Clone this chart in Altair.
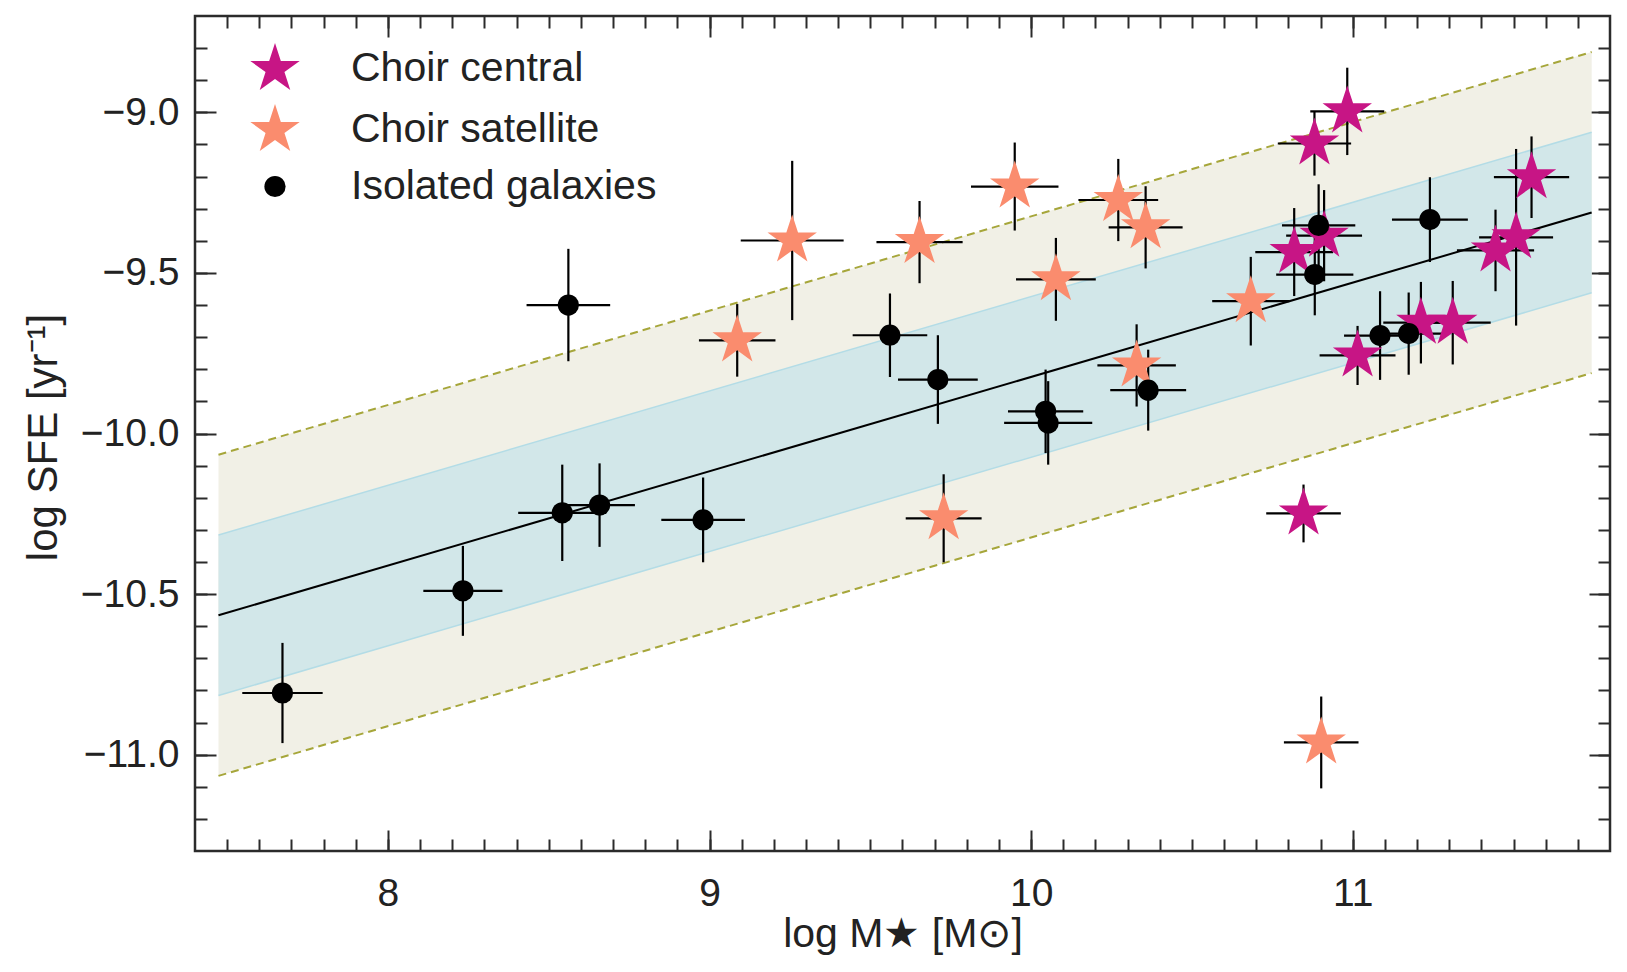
import math
import altair as alt
import pandas as pd

FONT = "Liberation Sans"
TXT = "#222222"
INK = "#2b2b2b"

# ---------------- data ----------------
groups = ["Choir central", "Choir satellite", "Isolated galaxies"]
group_colors = ["#C71585", "#FA8C6E", "#000000"]
group_sizes = [2700, 2700, 450]

cen_x = [10.983, 10.881, 11.556, 10.818, 10.911, 11.444, 11.508, 11.015, 11.212, 11.311, 10.847]
cen_y = [-8.997, -9.097, -9.202, -9.435, -9.384, -9.430, -9.389, -9.757, -9.655, -9.655, -10.249]
cen_xerr = [0.115, 0.114, 0.117, 0.121, 0.118, 0.120, 0.115, 0.118, 0.117, 0.118, 0.116]
cen_yerr = [0.136, 0.100, 0.127, 0.137, 0.142, 0.127, 0.275, 0.092, 0.127, 0.130, 0.090]

sat_x = [9.257, 9.086, 9.653, 9.949, 10.077, 10.271, 10.356, 10.683, 10.328, 9.728, 10.902]
sat_y = [-9.399, -9.710, -9.404, -9.231, -9.520, -9.273, -9.358, -9.588, -9.788, -10.264, -10.962]
sat_xerr = [0.160, 0.119, 0.134, 0.136, 0.124, 0.124, 0.115, 0.120, 0.122, 0.118, 0.116]
sat_yerr = [0.248, 0.113, 0.128, 0.137, 0.129, 0.128, 0.128, 0.138, 0.128, 0.137, 0.143]

iso_x = [7.672, 8.233, 8.561, 8.542, 8.658, 8.980, 9.561, 9.710, 10.045, 10.053,
         10.364, 10.894, 10.882, 11.085, 11.174, 11.240]
iso_y = [-10.808, -10.490, -9.600, -10.247, -10.223, -10.269, -9.694, -9.832, -9.931, -9.967,
         -9.865, -9.352, -9.505, -9.695, -9.689, -9.334]
iso_xerr = [0.125, 0.123, 0.130, 0.137, 0.110, 0.130, 0.116, 0.124, 0.117, 0.137,
            0.118, 0.114, 0.120, 0.112, 0.110, 0.118]
iso_yerr = [0.156, 0.140, 0.175, 0.150, 0.130, 0.132, 0.130, 0.138, 0.130, 0.130,
            0.126, 0.128, 0.127, 0.138, 0.128, 0.132]

# best-fit relation and its scatter bands
fit_x = [7.473, 11.743]
fit_y = [-10.566, -9.312]
band_inner = 0.25
band_outer = 0.50

# axis ticks
x_major = [8, 9, 10, 11]
x_minor = [round(7.5 + 0.1 * i, 1) for i in range(43)]
y_major = [-11.0, -10.5, -10.0, -9.5, -9.0]
y_minor = [round(-11.2 + 0.1 * i, 1) for i in range(25)]

X_DOMAIN = [7.4, 11.8]
Y_DOMAIN = [-11.3, -8.7]
W, H = 1415, 835

# ---------------- tables ----------------
rows = []
for g, xs_, ys_, xe, ye in [
    (groups[0], cen_x, cen_y, cen_xerr, cen_yerr),
    (groups[1], sat_x, sat_y, sat_xerr, sat_yerr),
    (groups[2], iso_x, iso_y, iso_xerr, iso_yerr),
]:
    for a, b, c, d in zip(xs_, ys_, xe, ye):
        rows.append({"group": g, "x": a, "y": b, "xerr": c, "yerr": d})
pts = pd.DataFrame(rows)
pts["x_lo"] = pts["x"] - pts["xerr"]
pts["x_hi"] = pts["x"] + pts["xerr"]
pts["y_lo"] = pts["y"] - pts["yerr"]
pts["y_hi"] = pts["y"] + pts["yerr"]

band = pd.DataFrame({"x": fit_x, "y": fit_y})
band["in_lo"] = band["y"] - band_inner
band["in_hi"] = band["y"] + band_inner
band["out_lo"] = band["y"] - band_outer
band["out_hi"] = band["y"] + band_outer

# star symbol path (unit box)
star_pts = []
for k in range(10):
    r = 1.0 if k % 2 == 0 else 0.382
    a = math.radians(-90 + 36 * k)
    star_pts.append(f"{r * math.cos(a):.4f},{r * math.sin(a):.4f}")
STAR = "M" + "L".join(star_pts) + "Z"

# ---------------- scales / axes ----------------
xs = alt.Scale(domain=X_DOMAIN, nice=False, zero=False)
ys = alt.Scale(domain=Y_DOMAIN, nice=False, zero=False)

TICK = dict(domain=False, grid=False, tickColor=INK, tickWidth=2)
LAB = 39
TIT = 41


def ax_x(kind):
    if kind == "major_bottom":
        return alt.Axis(orient="bottom", values=x_major, tickSize=21, offset=-21, format="d",
                        labelFont=FONT, labelFontSize=LAB, labelColor=TXT, labelPadding=23,
                        title="log M★ [M⊙]", titleFont=FONT, titleFontSize=TIT,
                        titleFontWeight="normal", titleColor=TXT, titleX=W / 2, titleY=104,
                        titleBaseline="middle", titleAlign="center", **TICK)
    if kind == "minor_bottom":
        return alt.Axis(orient="bottom", values=x_minor, tickSize=12, offset=-12,
                        labels=False, title="", **TICK)
    if kind == "major_top":
        return alt.Axis(orient="top", values=x_major, tickSize=21, offset=-21,
                        labels=False, title="", **TICK)
    return alt.Axis(orient="top", values=x_minor, tickSize=12, offset=-12,
                    labels=False, title="", **TICK)


def ax_y(kind):
    if kind == "major_left":
        return alt.Axis(orient="left", values=y_major, tickSize=21, offset=-21, format=".1f",
                        labelFont=FONT, labelFontSize=LAB, labelColor=TXT, labelPadding=16,
                        title="log SFE [yr⁻¹]", titleFont=FONT, titleFontSize=42,
                        titleFontWeight="normal", titleColor=TXT, titleAngle=270,
                        titleX=-173, titleY=421, titleBaseline="middle", titleAlign="center",
                        **TICK)
    if kind == "minor_left":
        return alt.Axis(orient="left", values=y_minor, tickSize=12, offset=-12,
                        labels=False, title="", **TICK)
    if kind == "major_right":
        return alt.Axis(orient="right", values=y_major, tickSize=21, offset=-21,
                        labels=False, title="", **TICK)
    return alt.Axis(orient="right", values=y_minor, tickSize=12, offset=-12,
                    labels=False, title="", **TICK)


def X(field, axis=None):
    if axis is None:
        return alt.X(field, type="quantitative", scale=xs, axis=None)
    return alt.X(field, type="quantitative", scale=xs, axis=axis)


def Y(field, axis=None):
    if axis is None:
        return alt.Y(field, type="quantitative", scale=ys, axis=None)
    return alt.Y(field, type="quantitative", scale=ys, axis=axis)


# ---------------- layers ----------------
outer_band = alt.Chart(band).mark_area(color="#F1F0E6", opacity=1).encode(
    x=X("x", ax_x("major_bottom")), y=Y("out_lo", ax_y("major_left")), y2="out_hi")

inner_band = alt.Chart(band).mark_area(color="#D2E7E9", opacity=1).encode(
    x=X("x", ax_x("minor_bottom")), y=Y("in_lo", ax_y("minor_left")), y2="in_hi")

dash_hi = alt.Chart(band).mark_line(color="#A6A63A", strokeWidth=2, strokeDash=[8, 5]).encode(
    x=X("x", ax_x("major_top")), y=Y("out_hi", ax_y("major_right")))

dash_lo = alt.Chart(band).mark_line(color="#A6A63A", strokeWidth=2, strokeDash=[8, 5]).encode(
    x=X("x", ax_x("minor_top")), y=Y("out_lo", ax_y("minor_right")))

edge_hi = alt.Chart(band).mark_line(color="#B3DCE6", strokeWidth=1.5).encode(
    x=X("x"), y=Y("in_hi"))
edge_lo = alt.Chart(band).mark_line(color="#B3DCE6", strokeWidth=1.5).encode(
    x=X("x"), y=Y("in_lo"))

fit_line = alt.Chart(band).mark_line(color="#000000", strokeWidth=2).encode(
    x=X("x"), y=Y("y"))

err_x = alt.Chart(pts).mark_rule(color="#000000", strokeWidth=2.2).encode(
    x=X("x_lo"), x2="x_hi", y=Y("y"))
err_y = alt.Chart(pts).mark_rule(color="#000000", strokeWidth=2.2).encode(
    x=X("x"), y=Y("y_lo"), y2="y_hi")

leg = alt.Legend(title=None, orient="none", legendX=54, legendY=27, labelFont=FONT,
                 labelFontSize=41, labelColor=TXT, labelOffset=50, rowPadding=13,
                 symbolStrokeWidth=0, padding=0, labelLimit=600)

markers = alt.Chart(pts).mark_point(filled=True, opacity=1, strokeWidth=0).encode(
    x=X("x"), y=Y("y"),
    color=alt.Color("group:N", scale=alt.Scale(domain=groups, range=group_colors), legend=leg),
    shape=alt.Shape("group:N", scale=alt.Scale(domain=groups, range=[STAR, STAR, "circle"]),
                    legend=leg),
    size=alt.Size("group:N", scale=alt.Scale(type="ordinal", domain=groups, range=group_sizes),
                  legend=leg),
)

chart = alt.layer(
    outer_band, inner_band, dash_hi, dash_lo, edge_hi, edge_lo, fit_line,
    err_x, err_y, markers,
).resolve_axis(x="independent", y="independent").properties(
    width=W, height=H,
    autosize=alt.AutoSizeParams(type="none"),
    padding={"left": 195, "top": 16, "right": 17, "bottom": 121},
    background="#ffffff",
).configure_view(stroke=INK, strokeWidth=2.5)

chart.save("out.html", embed_options={"renderer": "svg", "actions": False})
